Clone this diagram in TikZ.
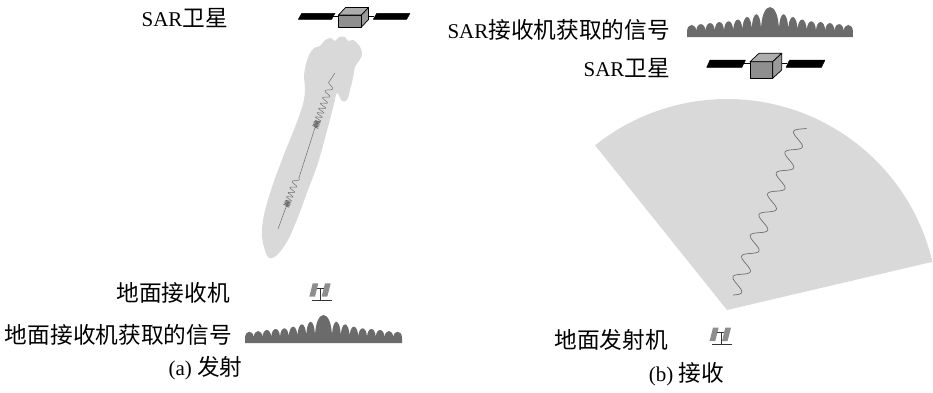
\documentclass[tikz,border=0pt]{standalone}
\usepackage{fontspec}
\setmainfont{Liberation Serif}
\newfontfamily\cjk[Scale=1.08]{Noto Sans CJK SC}
\newcommand\zh[1]{{\cjk #1}}
\definecolor{beamgray}{HTML}{D9D9D9}
\definecolor{sigfill}{HTML}{6B6B6B}
\definecolor{boxgray}{HTML}{999999}
\definecolor{wavegray}{HTML}{6E6E6E}
\definecolor{panelgray}{HTML}{8E8E8E}
\begin{document}
\begin{tikzpicture}[x=1pt,y=-1pt,
  declare function={bx(\p,\q)=278+0.343*\p+0.939*\q; by(\p,\q)=229-0.939*\p+0.343*\q;},
  lbl/.style={inner sep=0pt, font=\fontsize{21}{24}\selectfont},
  beam/.style={fill=beamgray, draw=none},
  thinwave/.style={draw=wavegray, line width=0.5pt},
  sectorwave/.style={draw=wavegray, line width=0.7pt},
  panel/.style={fill=black, draw=black, line width=0.4pt, line join=round},
  link/.style={draw=black, line width=0.5pt},
  boxface/.style={draw=black, line width=0.7pt, line join=round},
  pics/signal/.style={code={
    \fill[sigfill] (0,0) -- (0,-5)
      foreach \a/\b/\h in {0/8.75/11.3, 8.75/17.5/12, 17.5/26.25/13, 26.25/35/14,
                           35/43.75/14.7, 43.75/52.5/16.3, 52.5/61.25/18.7, 61.25/70/21.3,
                           70/87/28,
                           87/95.75/21.3, 95.75/104.5/18.7, 104.5/113.25/16.3, 113.25/122/14.7,
                           122/130.75/14, 130.75/139.5/13, 139.5/148.25/12, 148.25/157/11.3}
      { .. controls (\a,{-5-(\h-5)/0.75}) and (\b,{-5-(\h-5)/0.75}) .. (\b,-5) }
      -- (157,0) -- cycle;
  }},
  pics/groundstation/.style={code={
    \fill[panelgray] (-11.4,-3.3) -- (-8,-16.7) -- (-2.4,-16.7) -- (-5.7,-3.3) -- cycle;
    \fill[panelgray] (1,-3.3) -- (4.3,-16.7) -- (10,-16.7) -- (6.6,-3.3) -- cycle;
    \draw[line width=0.6pt, draw=black!80] (-4,-11.7) -- (3,-11.7) (0,-11.7) -- (0,0);
    \draw[line width=0.8pt, draw=black!80] (-9,0) -- (11,0);
  }}
]
\useasboundingbox (0,0) rectangle (933,392);

% ---------- (a) transmission ----------
% beam leaving the ground transmitter towards the satellite, fanning out on top
\fill[beam] plot[smooth cycle, tension=0.55] coordinates {
  (268,257) (262,237) (264,215) (272,187) (283,157) (295,127) (303,104)
  (305,89) (304,76) (306,64) (309,55) (314,48) (320,46) (325,40) (331,38)
  (335,41) (339,37) (345,37) (348,41) (353,40) (358,44) (361,49) (362,55)
  (359,61) (355,67) (353,78) (350,90) (347,100) (342,101) (337,93) (334,104)
  (328,127) (318,163) (308,190) (298,217) (288,240) (277,255)};

% pulse train inside the beam
\draw[thinwave] ({bx(0,0)},{by(0,0)})
  -- plot[domain=24:30, samples=60]
     ({bx(\x,3*sin(240*(\x-24)))},{by(\x,3*sin(240*(\x-24)))})
  -- plot[domain=30:55, samples=140]
     ({bx(\x,3*sin(90*(\x-30)-1.08*(\x-30)^2))},
      {by(\x,3*sin(90*(\x-30)-1.08*(\x-30)^2))})
  -- ({bx(108,0)},{by(108,0)})
  -- plot[domain=108:115, samples=70]
     ({bx(\x,3*sin(240*(\x-108)))},{by(\x,3*sin(240*(\x-108)))})
  -- plot[domain=115:155, samples=200]
     ({bx(\x,3.2*sin(90*(\x-115)-0.75*(\x-115)^2))},
      {by(\x,3.2*sin(90*(\x-115)-0.75*(\x-115)^2))})
  -- ({bx(166,0)},{by(166,0)});

% satellite
\fill[panel] (298.3,19.3) -- (301.7,13.3) -- (335,13.3) -- (331.7,19.3) -- cycle;
\draw[link] (333,16.5) -- (338.5,16.5) (368.5,16.5) -- (374,16.5);
\fill[panel] (373.3,19.3) -- (376.7,13.3) -- (410,13.3) -- (406.7,19.3) -- cycle;
\filldraw[boxface, fill=boxgray!110] (338.5,15) rectangle (361.5,27);
\filldraw[boxface, fill=boxgray!80] (338.5,15) -- (345.5,7.5) -- (368.5,7.5) -- (361.5,15) -- cycle;
\filldraw[boxface, fill=boxgray] (361.5,15) -- (368.5,7.5) -- (368.5,19.5) -- (361.5,27) -- cycle;

% ground receiver and its recorded signal
\pic at (320.7,300) {groundstation};
\pic at (245,343) {signal};

\node[lbl, anchor=base east] (satLabelA) at (228,26) {SAR\zh{卫星}};
\node[lbl, anchor=base east] (rxLabel) at (230,301) {\zh{地面接收机}};
\node[lbl, anchor=base east] (rxSigLabel) at (232,343) {\zh{地面接收机获取的信号}};
\node[lbl, anchor=base] (capA) at (205.5,375) {(a) \zh{发射}};

% ---------- (b) reception ----------
% illuminated sector from the ground transmitter
\fill[beam] (727,310) -- plot[domain=128.7:13.2, samples=90]
  ({727+211*cos(\x)},{310-211*sin(\x)}) -- cycle;
\draw[sectorwave] plot[domain=0:182, samples=400]
  ({733+0.385*\x+0.923*7*sin(16*\x)},{295-0.923*\x+0.385*7*sin(16*\x)});

% satellite
\fill[panel] (706.7,67.3) -- (710,60) -- (745.5,60) -- (742,67.3) -- cycle;
\draw[link] (743,63.5) -- (750,63.5) (781.7,63.5) -- (787,63.5);
\fill[panel] (786,67.3) -- (789.5,60) -- (825,60) -- (821.5,67.3) -- cycle;
\filldraw[boxface, fill=boxgray!110] (750,61.7) rectangle (772.7,78.3);
\filldraw[boxface, fill=boxgray!80] (750,61.7) -- (759,53.3) -- (781.7,53.3) -- (772.7,61.7) -- cycle;
\filldraw[boxface, fill=boxgray] (772.7,61.7) -- (781.7,53.3) -- (781.7,70) -- (772.7,78.3) -- cycle;

% signal recorded on board and the ground transmitter
\pic[xscale=1.057, yscale=1.07] at (687,37) {signal};
\pic at (721,344.3) {groundstation};

\node[lbl, anchor=base east] (satSigLabel) at (670,38) {SAR\zh{接收机获取的信号}};
\node[lbl, anchor=base east] (satLabelB) at (670,76) {SAR\zh{卫星}};
\node[lbl, anchor=base east] (txLabel) at (668,348) {\zh{地面发射机}};
\node[lbl, anchor=base] (capB) at (686.5,381) {(b) \zh{接收}};
\end{tikzpicture}
\end{document}
